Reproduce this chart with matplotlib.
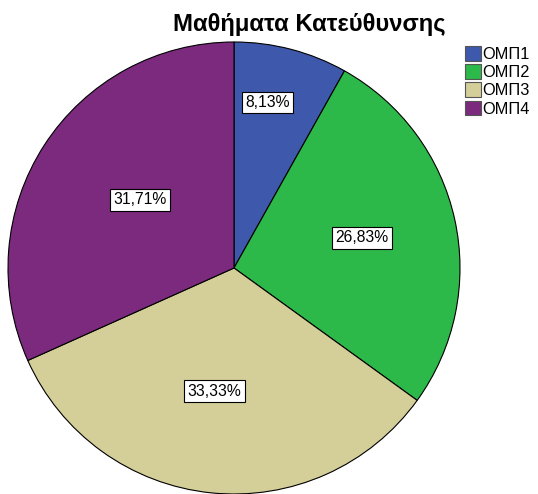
import numpy as np
import matplotlib
matplotlib.use('Agg')
import matplotlib.pyplot as plt
from matplotlib.patches import Patch

plt.rcParams['font.family'] = ['Liberation Sans', 'DejaVu Sans']

labels = ['ΟΜΠ1', 'ΟΜΠ2', 'ΟΜΠ3', 'ΟΜΠ4']
values = [8.13, 26.83, 33.33, 31.71]
colors = ['#3E58AC', '#2DB84A', '#D4CE98', '#7B2A7E']
title = 'Μαθήματα Κατεύθυνσης'

W, H = 538, 494
fig = plt.figure(figsize=(W / 100, H / 100), dpi=100)
# pie box in pixels: center (234, 268), radius 226
cx, cy, r = 234, 268, 226
ax = fig.add_axes([(cx - r) / W, 1 - (cy + r) / H, 2 * r / W, 2 * r / H])

wedges, _ = ax.pie(values, colors=colors, startangle=90, counterclock=False,
                   wedgeprops=dict(edgecolor='black', linewidth=0.8))
ax.set_xlim(-1, 1)
ax.set_ylim(-1, 1)
ax.set_aspect('equal')
ax.axis('off')

# label placement (radius fraction, angle offset from wedge middle in degrees)
label_dist = [0.747, 0.582, 0.551, 0.512]
label_shift = [3.2, 0.8, -3.1, -3.1]
for w, v, d, s in zip(wedges, values, label_dist, label_shift):
    ang = np.deg2rad((w.theta1 + w.theta2) / 2 + s)
    ax.text(d * np.cos(ang), d * np.sin(ang), f'{v:.2f}%'.replace('.', ','),
            ha='center', va='center', fontsize=11.3,
            bbox=dict(boxstyle='square,pad=0.22', facecolor='white',
                      edgecolor='black', linewidth=0.8))

fig.text(309 / W, 1 - 25 / H, title, ha='center', va='center',
         fontsize=17.2, fontweight='bold')

handles = [Patch(facecolor=c, edgecolor='#555555', linewidth=0.8) for c in colors]
fig.legend(handles, labels, loc='upper left', bbox_to_anchor=(465 / W, 1 - 46 / H),
           frameon=False, fontsize=11.8, handlelength=0.95, handleheight=1.0,
           handletextpad=0.1, labelspacing=0.14, borderpad=0, borderaxespad=0)

fig.savefig('out.png', dpi=100)
